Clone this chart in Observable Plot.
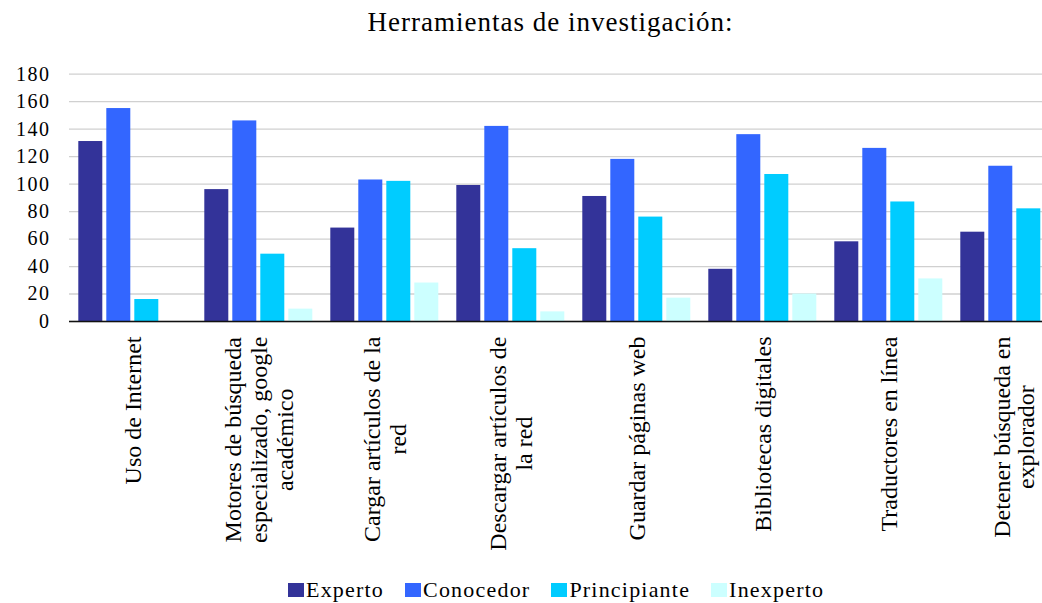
<!DOCTYPE html>
<html>
<head>
<meta charset="utf-8">
<script src="https://cdn.jsdelivr.net/npm/d3@7"></script>
<script src="https://cdn.jsdelivr.net/npm/@observablehq/plot@0.6"></script>
<style>
  html, body { margin: 0; padding: 0; background: #fff; overflow: hidden; }
  body { width: 1042px; height: 603px; font-family: "Liberation Serif", "Times New Roman", serif; color: #000; }
  #title { height: 44px; line-height: 44px; padding-left: 59px; text-align: center; font-size: 27px; letter-spacing: 1px; white-space: nowrap; }
  #chart { height: 516px; }
  #legend { height: 43px; box-sizing: border-box; padding-top: 16px; padding-left: 288px; display: flex; align-items: center; font-size: 22px; letter-spacing: 1.2px; line-height: 28px; }
  .item { display: flex; align-items: center; margin-right: 21px; }
  .sw { width: 16px; height: 14px; margin-right: 2px; display: inline-block; }
  svg [aria-label="y-axis tick label"] text { letter-spacing: 1.5px; }
</style>
</head>
<body>
<div id="title">Herramientas de investigación:</div>
<div id="chart"></div>
<div id="legend"></div>
<script>
// ---- data ----
const categories = [
  "Uso de Internet",
  "Motores de búsqueda especializado, google académico",
  "Cargar artículos de la red",
  "Descargar artículos de la red",
  "Guardar páginas web",
  "Bibliotecas digitales",
  "Traductores en línea",
  "Detener búsqueda en explorador"
];
const tickLabels = [
  "Uso de Internet",
  "Motores de búsqueda\nespecializado, google\nacadémico",
  "Cargar artículos de la\nred",
  "Descargar artículos de\nla red",
  "Guardar páginas web",
  "Bibliotecas digitales",
  "Traductores en línea",
  "Detener búsqueda en\nexplorador"
];
const series = ["Experto", "Conocedor", "Principiante", "Inexperto"];
const colors = ["#333399", "#3366FF", "#00CCFF", "#CCFFFF"];
const experto      = [131,  96,  68,  99,  91,  38,  58,  65];
const conocedor    = [155, 146, 103, 142, 118, 136, 126, 113];
const principiante = [ 16,  49, 102,  53,  76, 107,  87,  82];
const inexperto    = [  0,   9,  28,   7,  17,  20,  31, null]; // last one is cut off in the source image
const yTicks = [0, 20, 40, 60, 80, 100, 120, 140, 160, 180];

const seriesValues = [experto, conocedor, principiante, inexperto];
const data = [];
categories.forEach((c, i) => {
  series.forEach((s, j) => {
    const v = seriesValues[j][i];
    if (v != null) data.push({category: c, series: s, value: v});
  });
});

// measure label lines so each rotated block starts just below the axis, lines centred
const FONT = "'Liberation Serif', 'Times New Roman', serif";
const LABEL_SIZE = 24;
const ctx = document.createElement("canvas").getContext("2d");
ctx.font = `${LABEL_SIZE}px ${FONT}`;
const blockLength = (label) => Math.max(...label.split("\n").map((l) => ctx.measureText(l).width));

const labelMarks = categories.map((c, i) =>
  Plot.text([{category: c, label: tickLabels[i]}], {
    fx: "category", text: "label", frameAnchor: "bottom",
    rotate: -90, textAnchor: "middle", lineAnchor: "middle",
    lineHeight: i === categories.length - 1 ? 1.0 : 1.1,
    fontSize: LABEL_SIZE, fill: "#000",
    dy: 15 + blockLength(tickLabels[i]) / 2
  })
);

const plot = Plot.plot({
  width: 1042,
  height: 516,
  marginLeft: 66.7,
  marginRight: -37.5,
  marginTop: 29.7,
  marginBottom: 239,
  style: {fontFamily: FONT, background: "#fff", color: "#000", overflow: "hidden"},
  fx: {domain: categories, padding: 0, label: null, axis: null},
  x: {domain: series, paddingInner: 0.13, paddingOuter: 0.27, axis: null},
  y: {domain: [0, 180], label: null},
  color: {domain: series, range: colors},
  marks: [
    Plot.gridY(yTicks, {stroke: "#d0d0d0", strokeOpacity: 1, strokeWidth: 1.3}),
    Plot.barY(data, {fx: "category", x: "series", y: "value", fill: "series"}),
    Plot.ruleY([0], {stroke: "#111", strokeWidth: 1.4}),
    Plot.axisY(yTicks, {tickSize: 0, tickPadding: 19, fontSize: 20, label: null}),
    ...labelMarks
  ]
});
document.getElementById("chart").append(plot);

// legend
const legend = document.getElementById("legend");
series.forEach((s, i) => {
  const item = document.createElement("span");
  item.className = "item";
  const sw = document.createElement("span");
  sw.className = "sw";
  sw.style.background = colors[i];
  const label = document.createElement("span");
  label.textContent = s;
  item.append(sw, label);
  legend.append(item);
});
</script>
</body>
</html>
